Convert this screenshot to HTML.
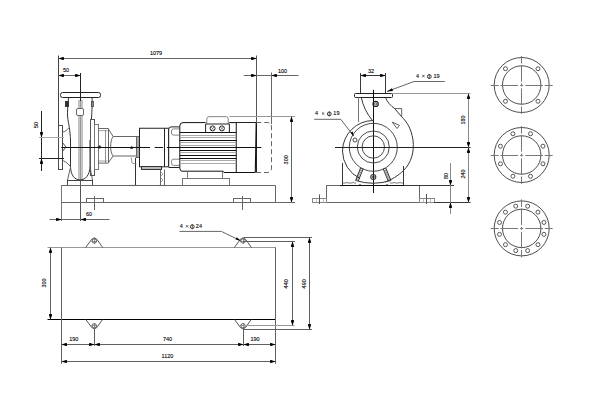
<!DOCTYPE html>
<html><head><meta charset="utf-8"><style>
html,body{margin:0;padding:0;background:#fff;}
svg{display:block;font-family:"Liberation Sans",sans-serif;}
text{fill:#000;stroke:#000;stroke-width:0.1px;}
</style></head><body>
<svg width="600" height="400" viewBox="0 0 600 400">
<rect width="600" height="400" fill="#fff"/>
<line x1="58.5" y1="58.5" x2="256.3" y2="58.5" stroke="#666" stroke-width="1.0" />
<polygon points="58.50,58.50 62.90,56.90 64.00,57.30 64.00,59.70 62.90,60.10" fill="#000"/>
<polygon points="256.50,58.50 252.10,56.90 251.00,57.30 251.00,59.70 252.10,60.10" fill="#000"/>
<text x="156" y="52.8" font-size="5.5" text-anchor="middle" dominant-baseline="central">1079</text>
<line x1="58.5" y1="55.5" x2="58.5" y2="125.6" stroke="#444" stroke-width="1.0" />
<line x1="256.5" y1="55.5" x2="256.5" y2="122.6" stroke="#555" stroke-width="1.0" />
<line x1="256.5" y1="122.6" x2="256.5" y2="172.5" stroke="#222" stroke-width="1.0" />
<line x1="58.5" y1="75.5" x2="80.5" y2="75.5" stroke="#666" stroke-width="1.0" />
<polygon points="58.50,75.50 62.90,73.90 64.00,74.30 64.00,76.70 62.90,77.10" fill="#000"/>
<polygon points="80.50,75.50 76.10,73.90 75.00,74.30 75.00,76.70 76.10,77.10" fill="#000"/>
<text x="66" y="70" font-size="5.5" text-anchor="middle" dominant-baseline="central">50</text>
<line x1="243.7" y1="75.5" x2="298.5" y2="75.5" stroke="#666" stroke-width="1.0" />
<polygon points="256.50,75.50 252.10,73.90 251.00,74.30 251.00,76.70 252.10,77.10" fill="#000"/>
<polygon points="271.50,75.50 275.90,73.90 277.00,74.30 277.00,76.70 275.90,77.10" fill="#000"/>
<text x="282.5" y="71" font-size="5.5" text-anchor="middle" dominant-baseline="central">100</text>
<line x1="271.5" y1="72.5" x2="271.5" y2="124" stroke="#666" stroke-width="1.0" />
<rect x="78.5" y="100.5" width="4.0" height="79.0" rx="0" stroke="#aaa" stroke-width="0.6" fill="#c4c4c4"/>
<line x1="80.5" y1="73" x2="80.5" y2="101" stroke="#222" stroke-width="1.0" />
<line x1="80.5" y1="101" x2="80.5" y2="180" stroke="#999" stroke-width="1.0" />
<line x1="80.5" y1="180" x2="80.5" y2="221" stroke="#555" stroke-width="1.0" />
<rect x="76.5" y="108.5" width="7.0" height="7.0" rx="1.5" stroke="#666" stroke-width="1.0" fill="#fff"/>
<rect x="60.5" y="92.5" width="40.0" height="5.0" rx="2" stroke="#222" stroke-width="1.0" fill="none"/>
<rect x="65.5" y="101.5" width="3.0" height="5.0" rx="0" stroke="#333" stroke-width="1.0" fill="#333"/>
<rect x="91.5" y="101.5" width="2.0" height="5.0" rx="0" stroke="#666" stroke-width="1.0" fill="none"/>
<path d="M68.5,97.5 C68,104 67.2,112 67.6,117 C68.5,124 70.2,130 70.5,140 L70.5,166.9 C71,175 74,179.6 80,180" stroke="#333" stroke-width="1.0" fill="none" />
<path d="M92.1,97.5 C92.3,106 91.8,114 91.4,119 M90,140 L90,166.9 C89.5,175 86,179.6 80,180" stroke="#333" stroke-width="1.0" fill="none" />
<rect x="58.5" y="125.5" width="4.0" height="44.0" rx="0" stroke="#4a4a4a" stroke-width="1.0" fill="none"/>
<path d="M62.3,132.1 C65,132 67,130 69.1,127.6" stroke="#666" stroke-width="1.0" fill="none" />
<path d="M63.1,160.6 C66,162 68.5,164 70.6,166.9" stroke="#666" stroke-width="1.0" fill="none" />
<path d="M62.8,143 L66,147 L62.8,151" stroke="#333" stroke-width="0.9" fill="none" />
<path d="M70.6,166.9 L67.4,180.6 M90,167 L92.6,180.6" stroke="#666" stroke-width="1.0" fill="none" />
<rect x="67.5" y="180.5" width="25.0" height="5.0" rx="0" stroke="#444" stroke-width="1.0" fill="none"/>
<rect x="90.5" y="119.5" width="4.0" height="56.0" rx="0" stroke="#555" stroke-width="1.0" fill="none"/>
<rect x="94.5" y="124.5" width="4.0" height="45.0" rx="0" stroke="#777" stroke-width="1.0" fill="none"/>
<path d="M98.1,128.5 L108.1,128.5 L113.1,136.5 L136.9,136.5 M113.1,156 L136.9,156 M113.1,156 L108.1,163.1 L98.1,163.1" stroke="#666" stroke-width="1.0" fill="none" />
<line x1="105.5" y1="130" x2="105.5" y2="163.1" stroke="#666" stroke-width="0.7" />
<line x1="108.5" y1="128.5" x2="108.5" y2="163.1" stroke="#666" stroke-width="1.0" />
<path d="M98.1,130.6 L107.5,130.6 M98.1,161 L107.5,161" stroke="#666" stroke-width="0.6" fill="none" />
<path d="M113.1,136.5 C109.8,141 109.8,152 113.1,156" stroke="#666" stroke-width="1.0" fill="none" />
<rect x="136.5" y="136.5" width="3.0" height="21.0" rx="0" stroke="#666" stroke-width="1.0" fill="#aaa"/>
<circle cx="99.40" cy="147.00" r="1.4" stroke="#666" stroke-width="0.9" fill="#222"/>
<line x1="135.5" y1="157.7" x2="135.5" y2="185.5" stroke="#333" stroke-width="1.0" />
<line x1="129" y1="185.5" x2="139" y2="185.5" stroke="#222" stroke-width="1.1" />
<line x1="158.5" y1="185.5" x2="166" y2="185.5" stroke="#222" stroke-width="1.1" />
<path d="M131.3,157.5 L132,163 L136.5,164" stroke="#666" stroke-width="0.7" fill="none" />
<text x="131.6" y="147" font-size="4" text-anchor="middle" dominant-baseline="central">A</text>
<path d="M139.1,128.25 L168.7,128.25 M139.1,166.8 L168.7,166.8" stroke="#222" stroke-width="1.0" fill="none" />
<line x1="139.5" y1="128.25" x2="139.5" y2="166.8" stroke="#222" stroke-width="1.0" />
<line x1="164.5" y1="128.25" x2="164.5" y2="166.8" stroke="#222" stroke-width="1.0" />
<line x1="168.5" y1="128.25" x2="168.5" y2="166.8" stroke="#666" stroke-width="1.0" />
<rect x="141.5" y="166.5" width="20.0" height="3.0" rx="0" stroke="#333" stroke-width="1.0" fill="#bbb"/>
<line x1="160.5" y1="169.5" x2="160.5" y2="185.5" stroke="#666" stroke-width="1.0" />
<line x1="164.5" y1="169.5" x2="164.5" y2="185.5" stroke="#666" stroke-width="1.0" />
<path d="M161,172 L163,174 L161,176 M161,178 L163,180 L161,182" stroke="#666" stroke-width="0.6" fill="none" />
<path d="M168.7,166.8 L168.7,129.5 Q168.7,126.9 171,126.9 L179.5,126.9 M168.7,167.5 L179.5,167.5" stroke="#222" stroke-width="1.0" fill="none" />
<path d="M179.5,128.9 L173.5,128.9 Q171.5,128.9 171.5,131 L171.5,133 Q171.5,135.1 173.5,135.1 L179.5,135.1" stroke="#666" stroke-width="0.8" fill="none" />
<path d="M179.5,159.2 L173.5,159.2 Q171.5,159.2 171.5,161.3 L171.5,163.3 Q171.5,165.4 173.5,165.4 L179.5,165.4" stroke="#666" stroke-width="0.8" fill="none" />
<path d="M179.8,168.1 L179.8,126 Q179.8,122.6 183,122.6 L205.6,122.6 M229.4,122.6 L236.25,122.6 L236.25,172.5 M179.8,168.1 Q180,171.2 182,171.2 L223.2,171.2 L224,172.5 L255.3,172.5" stroke="#111" stroke-width="1.0" fill="none" />
<line x1="179.8" y1="132.5" x2="236.25" y2="132.5" stroke="#111" stroke-width="1.0" />
<line x1="179.8" y1="135.5" x2="236.25" y2="135.5" stroke="#aaa" stroke-width="1.0" />
<line x1="179.8" y1="137.5" x2="236.25" y2="137.5" stroke="#aaa" stroke-width="1.0" />
<line x1="179.8" y1="140.5" x2="236.25" y2="140.5" stroke="#111" stroke-width="1.0" />
<line x1="179.8" y1="142.5" x2="236.25" y2="142.5" stroke="#aaa" stroke-width="1.0" />
<line x1="179.8" y1="145.5" x2="236.25" y2="145.5" stroke="#aaa" stroke-width="1.0" />
<line x1="179.8" y1="147.5" x2="236.25" y2="147.5" stroke="#111" stroke-width="1.0" />
<line x1="179.8" y1="150.5" x2="236.25" y2="150.5" stroke="#111" stroke-width="1.0" />
<line x1="179.8" y1="152.5" x2="236.25" y2="152.5" stroke="#aaa" stroke-width="1.0" />
<line x1="179.8" y1="155.5" x2="236.25" y2="155.5" stroke="#111" stroke-width="1.0" />
<line x1="179.8" y1="158.5" x2="236.25" y2="158.5" stroke="#111" stroke-width="1.0" />
<line x1="179.8" y1="160.5" x2="236.25" y2="160.5" stroke="#aaa" stroke-width="1.0" />
<line x1="179.8" y1="163.5" x2="236.25" y2="163.5" stroke="#aaa" stroke-width="1.0" />
<path d="M206.8,124 L206.8,119 Q206.8,116.65 209,116.65 L226,116.65 Q228.2,116.65 228.2,119 L228.2,124" stroke="#777" stroke-width="0.9" fill="none" />
<path d="M205.6,132.5 L205.6,124 L229.4,124 L229.4,132.5" stroke="#222" stroke-width="1.0" fill="none" />
<circle cx="212.60" cy="128.40" r="2.5" stroke="#222" stroke-width="1.0" fill="none"/>
<line x1="211.1" y1="126.9" x2="214.1" y2="129.9" stroke="#444" stroke-width="0.6" />
<line x1="211.1" y1="129.9" x2="214.1" y2="126.9" stroke="#444" stroke-width="0.6" />
<circle cx="221.90" cy="128.40" r="2.5" stroke="#222" stroke-width="1.0" fill="none"/>
<line x1="220.4" y1="126.9" x2="223.4" y2="129.9" stroke="#444" stroke-width="0.6" />
<line x1="220.4" y1="129.9" x2="223.4" y2="126.9" stroke="#444" stroke-width="0.6" />
<line x1="187.5" y1="171.2" x2="187.5" y2="178.2" stroke="#777" stroke-width="1.0" />
<line x1="222.5" y1="171.2" x2="222.5" y2="178.2" stroke="#777" stroke-width="1.0" />
<rect x="182.5" y="178.5" width="47.0" height="7.0" rx="0" stroke="#777" stroke-width="1.0" fill="none"/>
<line x1="229.4" y1="122.5" x2="256.25" y2="122.5" stroke="#222" stroke-width="1.0" />
<path d="M256.2,122.6 L255.3,172.5" stroke="#111" stroke-width="1.1" fill="none" />
<path d="M256.3,122.5 L267,122.5 Q271.5,122.5 271.5,127 L271.5,168 Q271.5,172.5 267,172.5 L256.3,172.5" stroke="#666" stroke-width="1.0" fill="none" stroke-dasharray="5,3"/>
<line x1="61.25" y1="147.5" x2="150" y2="147.5" stroke="#111" stroke-width="1.0" />
<line x1="154.75" y1="147.5" x2="163.1" y2="147.5" stroke="#111" stroke-width="1.0" />
<line x1="166.9" y1="147.5" x2="261.3" y2="147.5" stroke="#111" stroke-width="1.0" />
<line x1="41.5" y1="111" x2="41.5" y2="171" stroke="#222" stroke-width="1.0" />
<polygon points="41.50,137.50 39.90,133.10 40.30,132.00 42.70,132.00 43.10,133.10" fill="#000"/>
<polygon points="41.50,158.50 39.90,162.90 40.30,164.00 42.70,164.00 43.10,162.90" fill="#000"/>
<text x="35.8" y="125" font-size="5.5" text-anchor="middle" dominant-baseline="central" transform="rotate(-90 35.8 125)">50</text>
<line x1="39" y1="137.5" x2="64" y2="137.5" stroke="#aaa" stroke-width="1.0" />
<line x1="39" y1="158.5" x2="64" y2="158.5" stroke="#222" stroke-width="1.0" />
<line x1="229.4" y1="116.5" x2="295" y2="116.5" stroke="#999" stroke-width="1.0" />
<line x1="291.5" y1="116.65" x2="291.5" y2="202.7" stroke="#666" stroke-width="1.0" />
<polygon points="291.50,116.50 289.90,120.90 290.30,122.00 292.70,122.00 293.10,120.90" fill="#000"/>
<polygon points="291.50,202.50 289.90,198.10 290.30,197.00 292.70,197.00 293.10,198.10" fill="#000"/>
<text x="285.6" y="159.8" font-size="5.5" text-anchor="middle" dominant-baseline="central" transform="rotate(-90 285.6 159.8)">300</text>
<line x1="61.25" y1="185.5" x2="275.5" y2="185.5" stroke="#666" stroke-width="1.0" />
<line x1="61.25" y1="202.5" x2="295" y2="202.5" stroke="#666" stroke-width="1.0" />
<line x1="61.5" y1="185.5" x2="61.5" y2="221" stroke="#777" stroke-width="1.0" />
<line x1="275.5" y1="185.5" x2="275.5" y2="202.7" stroke="#666" stroke-width="1.0" />
<rect x="86.5" y="198.5" width="17.0" height="4.0" rx="0" stroke="#666" stroke-width="1.0" fill="none"/>
<line x1="94.5" y1="196" x2="94.5" y2="210" stroke="#666" stroke-width="1.0" />
<rect x="233.5" y="198.5" width="17.0" height="4.0" rx="0" stroke="#666" stroke-width="1.0" fill="none"/>
<line x1="242.5" y1="196" x2="242.5" y2="210" stroke="#666" stroke-width="1.0" />
<line x1="49.5" y1="219.5" x2="109.5" y2="219.5" stroke="#666" stroke-width="1.0" />
<polygon points="61.50,219.50 57.10,217.90 56.00,218.30 56.00,220.70 57.10,221.10" fill="#000"/>
<polygon points="80.50,219.50 84.90,217.90 86.00,218.30 86.00,220.70 84.90,221.10" fill="#000"/>
<text x="89" y="213.5" font-size="5.5" text-anchor="middle" dominant-baseline="central">60</text>
<line x1="360.6" y1="75.5" x2="385.8" y2="75.5" stroke="#383838" stroke-width="1.0" />
<polygon points="360.50,75.50 364.90,73.90 366.00,74.30 366.00,76.70 364.90,77.10" fill="#000"/>
<polygon points="385.50,75.50 381.10,73.90 380.00,74.30 380.00,76.70 381.10,77.10" fill="#000"/>
<text x="371" y="70.6" font-size="5.5" text-anchor="middle" dominant-baseline="central">32</text>
<line x1="360.5" y1="73" x2="360.5" y2="93.3" stroke="#383838" stroke-width="1.0" />
<line x1="385.5" y1="73" x2="385.5" y2="93.3" stroke="#383838" stroke-width="1.0" />
<rect x="354.5" y="93.5" width="38.0" height="4.0" rx="1" stroke="#222" stroke-width="1.0" fill="none"/>
<line x1="373.5" y1="89.8" x2="373.5" y2="193" stroke="#111" stroke-width="1.0" />
<circle cx="375.60" cy="103.90" r="2.6" stroke="#222" stroke-width="1.2" fill="none"/>
<circle cx="375.60" cy="103.90" r="1.1" stroke="#444" stroke-width="0.9" fill="none"/>
<path d="M387,91.5 L414,81.5 L444.8,81.5" stroke="#666" stroke-width="1.0" fill="none" />
<polygon points="387.50,91.50 387.58,91.40 387.60,91.42 387.60,91.58 387.58,91.60" fill="#000"/>
<polygon points="387,91.5 392,88.3 393,91" fill="#000"/>
<text x="417.6" y="75.9" font-size="5.5" text-anchor="middle" dominant-baseline="central">4</text>
<path d="M422.2,74.9 L424.59999999999997,77.30000000000001 M422.2,77.30000000000001 L424.59999999999997,74.9" stroke="#222" stroke-width="0.7" fill="none"/>
<circle cx="429.30" cy="76.50" r="1.9" stroke="#222" stroke-width="0.9" fill="none"/>
<line x1="429.3" y1="74.0" x2="429.3" y2="79.0" stroke="#222" stroke-width="0.7"/>
<text x="436.5" y="75.9" font-size="5.5" text-anchor="middle" dominant-baseline="central">19</text>
<line x1="358.5" y1="97.2" x2="358.5" y2="122.1" stroke="#777" stroke-width="1.0" />
<path d="M361.2,97.2 C363,106 367,114 372.3,120.3" stroke="#383838" stroke-width="1.0" fill="none" />
<path d="M385.3,97.2 C387,102 391,106 394.7,108.6 L401.7,116.8 C407,122 411,128 413,140 C414.5,152 411,163 404,170 C398,176 391,180 385,182" stroke="#383838" stroke-width="1.0" fill="none" />
<path d="M394.7,108.6 L401.7,108.6 L401.7,116.8" stroke="#383838" stroke-width="0.8" fill="none" />
<path d="M392.3,122.1 L399.4,125.4 L397,128.5 Z" stroke="#383838" stroke-width="0.8" fill="none" />
<path d="M342.5,151 A30.8,30.8 0 0 1 373.3,120.5 M342.5,151 A30.8,30.8 0 0 0 360,178.5" stroke="#383838" stroke-width="1.0" fill="none" />
<circle cx="373.30" cy="147.30" r="24" stroke="#383838" stroke-width="0.9" fill="none"/>
<circle cx="373.30" cy="147.00" r="16" stroke="#383838" stroke-width="0.9" fill="none"/>
<circle cx="373.30" cy="147.00" r="11.2" stroke="#383838" stroke-width="0.9" fill="none"/>
<line x1="335" y1="147.5" x2="470.5" y2="147.5" stroke="#222" stroke-width="1.0" />
<circle cx="355.00" cy="140.00" r="2" stroke="#383838" stroke-width="0.9" fill="none"/>
<path d="M314.2,119.3 L340.8,119.3 L353.6,136" stroke="#666" stroke-width="1.0" fill="none" />
<polygon points="353.8,136.3 350.5,132.8 352.6,131.6" fill="#000"/>
<text x="316.5" y="113.3" font-size="5.5" text-anchor="middle" dominant-baseline="central">4</text>
<path d="M321.90000000000003,112.3 L324.3,114.7 M321.90000000000003,114.7 L324.3,112.3" stroke="#222" stroke-width="0.7" fill="none"/>
<circle cx="329.30" cy="113.90" r="1.9" stroke="#222" stroke-width="0.9" fill="none"/>
<line x1="329.3" y1="111.39999999999999" x2="329.3" y2="116.39999999999999" stroke="#222" stroke-width="0.7"/>
<text x="336.4" y="113.3" font-size="5.5" text-anchor="middle" dominant-baseline="central">19</text>
<line x1="342.5" y1="163" x2="342.5" y2="185.5" stroke="#383838" stroke-width="1.0" />
<line x1="403.5" y1="166" x2="403.5" y2="185.5" stroke="#383838" stroke-width="1.0" />
<path d="M360.5,168 L355.6,180.5 M363.2,168.6 L358.3,181 M385.8,168 L390.9,180.5 M383.1,168.6 L388.2,181" stroke="#222" stroke-width="0.9" fill="none" />
<path d="M360.09,169.04 L362.79,168.43" stroke="#333" stroke-width="0.7" fill="none" />
<path d="M386.23,169.04 L383.53,168.43" stroke="#333" stroke-width="0.7" fill="none" />
<path d="M359.27,171.12 L361.97,170.50" stroke="#333" stroke-width="0.7" fill="none" />
<path d="M387.07,171.12 L384.38,170.50" stroke="#333" stroke-width="0.7" fill="none" />
<path d="M358.46,173.21 L361.16,172.57" stroke="#333" stroke-width="0.7" fill="none" />
<path d="M387.93,173.21 L385.23,172.57" stroke="#333" stroke-width="0.7" fill="none" />
<path d="M357.64,175.29 L360.34,174.63" stroke="#333" stroke-width="0.7" fill="none" />
<path d="M388.78,175.29 L386.08,174.63" stroke="#333" stroke-width="0.7" fill="none" />
<path d="M356.82,177.38 L359.52,176.70" stroke="#333" stroke-width="0.7" fill="none" />
<path d="M389.62,177.38 L386.93,176.70" stroke="#333" stroke-width="0.7" fill="none" />
<path d="M356.01,179.46 L358.71,178.77" stroke="#333" stroke-width="0.7" fill="none" />
<path d="M390.48,179.46 L387.78,178.77" stroke="#333" stroke-width="0.7" fill="none" />
<path d="M355.6,180.5 Q373,186 390.9,180.5" stroke="#383838" stroke-width="1.0" fill="none" />
<circle cx="373.30" cy="177.00" r="2.5" stroke="#383838" stroke-width="1.1" fill="none"/>
<circle cx="373.30" cy="177.00" r="1.1" stroke="#383838" stroke-width="0.9" fill="none"/>
<path d="M342.4,183 L346,183 Q347,181.5 348,183 L352,183 Q353,181.5 354,183 L356,183 M390,183 L393,183 Q394,181.5 395,183 L399,183 Q400,181.5 401,183 L403,183" stroke="#444" stroke-width="0.7" fill="none" />
<path d="M359,185 Q360,183 361,185 M386,185 Q387,183 388,185" stroke="#383838" stroke-width="0.6" fill="none" />
<rect x="326.5" y="185.5" width="93.0" height="17.0" rx="0" stroke="#666" stroke-width="1.0" fill="none"/>
<line x1="340" y1="185.5" x2="406" y2="185.5" stroke="#111" stroke-width="1.0" />
<rect x="312.5" y="198.5" width="14.0" height="4.0" rx="0" stroke="#888" stroke-width="1.0" fill="none"/>
<line x1="319.5" y1="194.4" x2="319.5" y2="204" stroke="#555" stroke-width="1.0" />
<line x1="316.5" y1="198.5" x2="316.5" y2="202.5" stroke="#999" stroke-width="0.6" />
<line x1="323.5" y1="198.5" x2="323.5" y2="202.5" stroke="#999" stroke-width="0.6" />
<rect x="419.5" y="198.5" width="15.0" height="4.0" rx="0" stroke="#888" stroke-width="1.0" fill="none"/>
<line x1="426.5" y1="194" x2="426.5" y2="204" stroke="#555" stroke-width="1.0" />
<line x1="423.5" y1="198.5" x2="423.5" y2="202.5" stroke="#999" stroke-width="0.6" />
<line x1="430.5" y1="198.5" x2="430.5" y2="202.5" stroke="#999" stroke-width="0.6" />
<line x1="404" y1="185.5" x2="454" y2="185.5" stroke="#383838" stroke-width="1.0" />
<line x1="434" y1="202.5" x2="470.5" y2="202.5" stroke="#383838" stroke-width="1.0" />
<line x1="392" y1="93.5" x2="470.5" y2="93.5" stroke="#999" stroke-width="1.0" />
<line x1="468.5" y1="93.3" x2="468.5" y2="202.5" stroke="#888" stroke-width="1.0" />
<polygon points="468.50,93.50 466.90,97.90 467.30,99.00 469.70,99.00 470.10,97.90" fill="#000"/>
<polygon points="468.50,147.50 466.90,143.10 467.30,142.00 469.70,142.00 470.10,143.10" fill="#000"/>
<polygon points="468.50,147.50 466.90,151.90 467.30,153.00 469.70,153.00 470.10,151.90" fill="#000"/>
<polygon points="468.50,202.50 466.90,198.10 467.30,197.00 469.70,197.00 470.10,198.10" fill="#000"/>
<text x="462.5" y="120" font-size="5.5" text-anchor="middle" dominant-baseline="central" transform="rotate(-90 462.5 120)">180</text>
<text x="462.5" y="174" font-size="5.5" text-anchor="middle" dominant-baseline="central" transform="rotate(-90 462.5 174)">240</text>
<line x1="450.5" y1="163" x2="450.5" y2="214" stroke="#888" stroke-width="1.0" />
<polygon points="450.50,185.50 448.90,181.10 449.30,180.00 451.70,180.00 452.10,181.10" fill="#000"/>
<polygon points="450.50,202.50 448.90,206.90 449.30,208.00 451.70,208.00 452.10,206.90" fill="#000"/>
<text x="445.6" y="176" font-size="5.5" text-anchor="middle" dominant-baseline="central" transform="rotate(-90 445.6 176)">80</text>
<circle cx="521.70" cy="85.00" r="27.5" stroke="#3a3a3a" stroke-width="0.9" fill="none"/>
<circle cx="521.70" cy="85.00" r="19.2" stroke="#3a3a3a" stroke-width="0.9" fill="none"/>
<circle cx="537.96" cy="68.74" r="2" stroke="#444" stroke-width="0.9" fill="none"/>
<circle cx="537.96" cy="101.26" r="2" stroke="#444" stroke-width="0.9" fill="none"/>
<circle cx="505.44" cy="101.26" r="2" stroke="#444" stroke-width="0.9" fill="none"/>
<circle cx="505.44" cy="68.74" r="2" stroke="#444" stroke-width="0.9" fill="none"/>
<line x1="490.70000000000005" y1="85.5" x2="498.70000000000005" y2="85.5" stroke="#777" stroke-width="1.0" />
<line x1="521.5" y1="56.0" x2="521.5" y2="63.483870967741936" stroke="#777" stroke-width="1.0" />
<line x1="500.40000000000003" y1="85.5" x2="518.0" y2="85.5" stroke="#777" stroke-width="1.0" />
<line x1="521.5" y1="65.0741935483871" x2="521.5" y2="81.53870967741935" stroke="#777" stroke-width="1.0" />
<line x1="520.2" y1="85.5" x2="523.2" y2="85.5" stroke="#777" stroke-width="1.0" />
<line x1="521.5" y1="83.59677419354838" x2="521.5" y2="86.40322580645162" stroke="#777" stroke-width="1.0" />
<line x1="525.4000000000001" y1="85.5" x2="543.0" y2="85.5" stroke="#777" stroke-width="1.0" />
<line x1="521.5" y1="88.46129032258065" x2="521.5" y2="104.9258064516129" stroke="#777" stroke-width="1.0" />
<line x1="544.7" y1="85.5" x2="552.7" y2="85.5" stroke="#777" stroke-width="1.0" />
<line x1="521.5" y1="106.51612903225806" x2="521.5" y2="114.0" stroke="#777" stroke-width="1.0" />
<circle cx="521.70" cy="155.00" r="27.5" stroke="#3a3a3a" stroke-width="0.9" fill="none"/>
<circle cx="521.70" cy="155.00" r="19.2" stroke="#3a3a3a" stroke-width="0.9" fill="none"/>
<circle cx="530.50" cy="133.75" r="2" stroke="#444" stroke-width="0.9" fill="none"/>
<circle cx="542.95" cy="146.20" r="2" stroke="#444" stroke-width="0.9" fill="none"/>
<circle cx="542.95" cy="163.80" r="2" stroke="#444" stroke-width="0.9" fill="none"/>
<circle cx="530.50" cy="176.25" r="2" stroke="#444" stroke-width="0.9" fill="none"/>
<circle cx="512.90" cy="176.25" r="2" stroke="#444" stroke-width="0.9" fill="none"/>
<circle cx="500.45" cy="163.80" r="2" stroke="#444" stroke-width="0.9" fill="none"/>
<circle cx="500.45" cy="146.20" r="2" stroke="#444" stroke-width="0.9" fill="none"/>
<circle cx="512.90" cy="133.75" r="2" stroke="#444" stroke-width="0.9" fill="none"/>
<line x1="490.70000000000005" y1="155.5" x2="498.70000000000005" y2="155.5" stroke="#777" stroke-width="1.0" />
<line x1="521.5" y1="126.0" x2="521.5" y2="133.48387096774195" stroke="#777" stroke-width="1.0" />
<line x1="500.40000000000003" y1="155.5" x2="518.0" y2="155.5" stroke="#777" stroke-width="1.0" />
<line x1="521.5" y1="135.0741935483871" x2="521.5" y2="151.53870967741935" stroke="#777" stroke-width="1.0" />
<line x1="520.2" y1="155.5" x2="523.2" y2="155.5" stroke="#777" stroke-width="1.0" />
<line x1="521.5" y1="153.59677419354838" x2="521.5" y2="156.40322580645162" stroke="#777" stroke-width="1.0" />
<line x1="525.4000000000001" y1="155.5" x2="543.0" y2="155.5" stroke="#777" stroke-width="1.0" />
<line x1="521.5" y1="158.46129032258065" x2="521.5" y2="174.9258064516129" stroke="#777" stroke-width="1.0" />
<line x1="544.7" y1="155.5" x2="552.7" y2="155.5" stroke="#777" stroke-width="1.0" />
<line x1="521.5" y1="176.51612903225805" x2="521.5" y2="184.0" stroke="#777" stroke-width="1.0" />
<circle cx="521.70" cy="228.40" r="27.5" stroke="#3a3a3a" stroke-width="0.9" fill="none"/>
<circle cx="521.70" cy="228.40" r="19.2" stroke="#3a3a3a" stroke-width="0.9" fill="none"/>
<circle cx="527.65" cy="206.18" r="2" stroke="#444" stroke-width="0.9" fill="none"/>
<circle cx="537.96" cy="212.14" r="2" stroke="#444" stroke-width="0.9" fill="none"/>
<circle cx="543.92" cy="222.45" r="2" stroke="#444" stroke-width="0.9" fill="none"/>
<circle cx="543.92" cy="234.35" r="2" stroke="#444" stroke-width="0.9" fill="none"/>
<circle cx="537.96" cy="244.66" r="2" stroke="#444" stroke-width="0.9" fill="none"/>
<circle cx="527.65" cy="250.62" r="2" stroke="#444" stroke-width="0.9" fill="none"/>
<circle cx="515.75" cy="250.62" r="2" stroke="#444" stroke-width="0.9" fill="none"/>
<circle cx="505.44" cy="244.66" r="2" stroke="#444" stroke-width="0.9" fill="none"/>
<circle cx="499.48" cy="234.35" r="2" stroke="#444" stroke-width="0.9" fill="none"/>
<circle cx="499.48" cy="222.45" r="2" stroke="#444" stroke-width="0.9" fill="none"/>
<circle cx="505.44" cy="212.14" r="2" stroke="#444" stroke-width="0.9" fill="none"/>
<circle cx="515.75" cy="206.18" r="2" stroke="#444" stroke-width="0.9" fill="none"/>
<line x1="490.70000000000005" y1="228.5" x2="498.70000000000005" y2="228.5" stroke="#777" stroke-width="1.0" />
<line x1="521.5" y1="199.4" x2="521.5" y2="206.88387096774193" stroke="#777" stroke-width="1.0" />
<line x1="500.40000000000003" y1="228.5" x2="518.0" y2="228.5" stroke="#777" stroke-width="1.0" />
<line x1="521.5" y1="208.4741935483871" x2="521.5" y2="224.93870967741935" stroke="#777" stroke-width="1.0" />
<line x1="520.2" y1="228.5" x2="523.2" y2="228.5" stroke="#777" stroke-width="1.0" />
<line x1="521.5" y1="226.9967741935484" x2="521.5" y2="229.80322580645162" stroke="#777" stroke-width="1.0" />
<line x1="525.4000000000001" y1="228.5" x2="543.0" y2="228.5" stroke="#777" stroke-width="1.0" />
<line x1="521.5" y1="231.86129032258066" x2="521.5" y2="248.32580645161292" stroke="#777" stroke-width="1.0" />
<line x1="544.7" y1="228.5" x2="552.7" y2="228.5" stroke="#777" stroke-width="1.0" />
<line x1="521.5" y1="249.91612903225808" x2="521.5" y2="257.4" stroke="#777" stroke-width="1.0" />
<line x1="47.5" y1="247.5" x2="275.8" y2="247.5" stroke="#999" stroke-width="1.0" />
<line x1="47.5" y1="319.5" x2="275.8" y2="319.5" stroke="#000" stroke-width="1.2" />
<line x1="61.5" y1="247.5" x2="61.5" y2="363.8" stroke="#606060" stroke-width="1.0" />
<line x1="275.5" y1="247.5" x2="275.5" y2="363.8" stroke="#606060" stroke-width="1.0" />
<line x1="50.5" y1="247.5" x2="50.5" y2="319.3" stroke="#606060" stroke-width="1.0" />
<polygon points="50.50,247.50 48.90,251.90 49.30,253.00 51.70,253.00 52.10,251.90" fill="#000"/>
<polygon points="50.50,319.50 48.90,315.10 49.30,314.00 51.70,314.00 52.10,315.10" fill="#000"/>
<text x="44.2" y="283" font-size="5.5" text-anchor="middle" dominant-baseline="central" transform="rotate(-90 44.2 283)">300</text>
<path d="M85.7,247.5 L91.7,239.3 Q94.3,236.3 96.89999999999999,239.3 L102.7,247.5" stroke="#444" stroke-width="0.9" fill="none" />
<circle cx="94.30" cy="241.00" r="2.2" stroke="#555" stroke-width="0.9" fill="none"/>
<line x1="91.5" y1="241.5" x2="97.1" y2="241.5" stroke="#555" stroke-width="0.6" />
<line x1="94.5" y1="238.2" x2="94.5" y2="243.8" stroke="#555" stroke-width="0.6" />
<path d="M234.4,247.5 L240.4,239.3 Q243,236.3 245.6,239.3 L251.4,247.5" stroke="#444" stroke-width="0.9" fill="none" />
<circle cx="243.00" cy="241.00" r="2.2" stroke="#555" stroke-width="0.9" fill="none"/>
<line x1="240.2" y1="241.5" x2="245.8" y2="241.5" stroke="#555" stroke-width="0.6" />
<line x1="243.5" y1="238.2" x2="243.5" y2="243.8" stroke="#555" stroke-width="0.6" />
<path d="M85.7,319.3 L91.7,327.5 Q94.3,330.5 96.89999999999999,327.5 L102.7,319.3" stroke="#444" stroke-width="0.9" fill="none" />
<circle cx="94.30" cy="325.80" r="2.2" stroke="#555" stroke-width="0.9" fill="none"/>
<line x1="91.5" y1="325.5" x2="97.1" y2="325.5" stroke="#555" stroke-width="0.6" />
<line x1="94.5" y1="328.6" x2="94.5" y2="323.0" stroke="#555" stroke-width="0.6" />
<path d="M234.4,319.3 L240.4,327.5 Q243,330.5 245.6,327.5 L251.4,319.3" stroke="#444" stroke-width="0.9" fill="none" />
<circle cx="243.00" cy="325.80" r="2.2" stroke="#555" stroke-width="0.9" fill="none"/>
<line x1="240.2" y1="325.5" x2="245.8" y2="325.5" stroke="#555" stroke-width="0.6" />
<line x1="243.5" y1="328.6" x2="243.5" y2="323.0" stroke="#555" stroke-width="0.6" />
<line x1="94.5" y1="329" x2="94.5" y2="346" stroke="#606060" stroke-width="1.0" />
<line x1="243.5" y1="329" x2="243.5" y2="346" stroke="#606060" stroke-width="1.0" />
<path d="M179.5,231.4 L221.4,231.4 L240.5,240.8" stroke="#666" stroke-width="1.0" fill="none" />
<polygon points="241,241 235.6,239.6 236.8,237.2" fill="#000"/>
<text x="181.4" y="226.1" font-size="5.5" text-anchor="middle" dominant-baseline="central">4</text>
<path d="M185.9,225.1 L188.29999999999998,227.5 M185.9,227.5 L188.29999999999998,225.1" stroke="#222" stroke-width="0.7" fill="none"/>
<circle cx="192.30" cy="226.70" r="1.9" stroke="#222" stroke-width="0.9" fill="none"/>
<line x1="192.3" y1="224.2" x2="192.3" y2="229.2" stroke="#222" stroke-width="0.7"/>
<text x="198.9" y="226.1" font-size="5.5" text-anchor="middle" dominant-baseline="central">24</text>
<line x1="243.7" y1="237.5" x2="312" y2="237.5" stroke="#606060" stroke-width="1.0" />
<line x1="243" y1="241.5" x2="295" y2="241.5" stroke="#606060" stroke-width="1.0" />
<line x1="243" y1="325.5" x2="294.5" y2="325.5" stroke="#999" stroke-width="1.0" />
<line x1="243" y1="329.5" x2="312" y2="329.5" stroke="#606060" stroke-width="1.0" />
<line x1="292.5" y1="241.7" x2="292.5" y2="325.5" stroke="#606060" stroke-width="1.0" />
<polygon points="292.50,241.50 290.90,245.90 291.30,247.00 293.70,247.00 294.10,245.90" fill="#000"/>
<polygon points="292.50,325.50 290.90,321.10 291.30,320.00 293.70,320.00 294.10,321.10" fill="#000"/>
<text x="286.3" y="283.8" font-size="5.5" text-anchor="middle" dominant-baseline="central" transform="rotate(-90 286.3 283.8)">440</text>
<line x1="309.5" y1="237.5" x2="309.5" y2="329.5" stroke="#606060" stroke-width="1.0" />
<polygon points="309.50,237.50 307.90,241.90 308.30,243.00 310.70,243.00 311.10,241.90" fill="#000"/>
<polygon points="309.50,329.50 307.90,325.10 308.30,324.00 310.70,324.00 311.10,325.10" fill="#000"/>
<text x="303.8" y="283.8" font-size="5.5" text-anchor="middle" dominant-baseline="central" transform="rotate(-90 303.8 283.8)">490</text>
<line x1="61.3" y1="344.5" x2="275.8" y2="344.5" stroke="#606060" stroke-width="1.0" />
<polygon points="61.50,344.50 65.90,342.90 67.00,343.30 67.00,345.70 65.90,346.10" fill="#000"/>
<polygon points="94.50,344.50 90.10,342.90 89.00,343.30 89.00,345.70 90.10,346.10" fill="#000"/>
<polygon points="94.50,344.50 98.90,342.90 100.00,343.30 100.00,345.70 98.90,346.10" fill="#000"/>
<polygon points="243.50,344.50 239.10,342.90 238.00,343.30 238.00,345.70 239.10,346.10" fill="#000"/>
<polygon points="243.50,344.50 247.90,342.90 249.00,343.30 249.00,345.70 247.90,346.10" fill="#000"/>
<polygon points="275.50,344.50 271.10,342.90 270.00,343.30 270.00,345.70 271.10,346.10" fill="#000"/>
<text x="73.8" y="338.8" font-size="5.5" text-anchor="middle" dominant-baseline="central">190</text>
<text x="167.5" y="338.8" font-size="5.5" text-anchor="middle" dominant-baseline="central">740</text>
<text x="255" y="338.8" font-size="5.5" text-anchor="middle" dominant-baseline="central">190</text>
<line x1="61.3" y1="361.5" x2="275.8" y2="361.5" stroke="#606060" stroke-width="1.0" />
<polygon points="61.50,361.50 65.90,359.90 67.00,360.30 67.00,362.70 65.90,363.10" fill="#000"/>
<polygon points="275.50,361.50 271.10,359.90 270.00,360.30 270.00,362.70 271.10,363.10" fill="#000"/>
<text x="167.5" y="355.5" font-size="5.5" text-anchor="middle" dominant-baseline="central">1120</text>
</svg></body></html>
